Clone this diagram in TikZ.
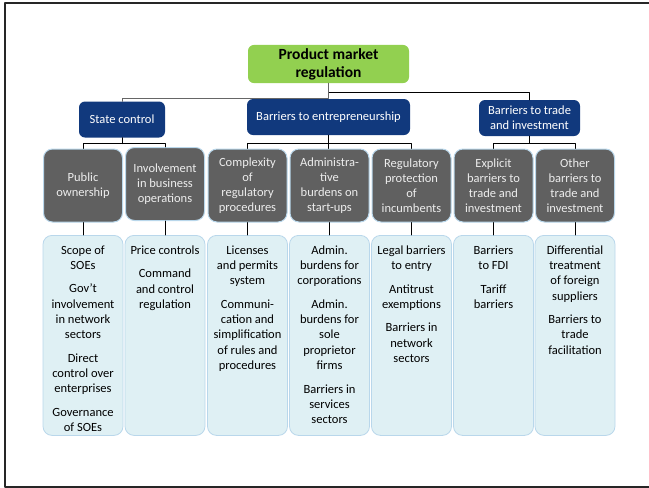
\documentclass[tikz,border=0pt]{standalone}
\usepackage{fontspec}
\setmainfont{Carlito}
\usepackage{tikz}
\definecolor{pmrgreen}{RGB}{146,208,80}
\definecolor{pmrblue}{RGB}{17,57,125}
\definecolor{pmrgray}{RGB}{96,96,96}
\definecolor{pmredge}{RGB}{185,215,235}
\definecolor{pmrpale}{RGB}{223,240,244}
\newcommand{\itemcol}[1]{\parbox[t][200pt][t]{80pt}{\fontsize{12.5}{15.3}\selectfont\centering\setlength{\parskip}{8.2pt}\vspace*{2pt}#1}}

\begin{document}
\begin{tikzpicture}[x=1pt,y=-1pt,line cap=round,line join=round,
    topbox/.style={fill=pmrgreen,rounded corners=6pt,minimum width=161pt,minimum height=36pt,align=center,font=\bfseries\fontsize{15.5}{18}\selectfont},
    groupbox/.style={fill=pmrblue,text=white,rounded corners=6pt,minimum height=36pt,align=center,font=\fontsize{12.5}{15}\selectfont},
    areabox/.style={fill=pmrgray,draw=pmredge,line width=1pt,text=white!93!black,rounded corners=9pt,minimum width=79pt,minimum height=73pt,align=center,inner sep=1pt,font=\fontsize{12.5}{15}\selectfont},
    listbox/.style={fill=pmrpale,draw=pmredge,line width=0.8pt,rounded corners=9pt,anchor=north,inner sep=0pt},
    link/.style={line width=0.9pt}]
        \useasboundingbox (0,0) rectangle (649,488);
        \draw [line width=2pt,black!85] (660,2.5) -- (5.3,2.5) -- (5.3,486.7) -- (660,486.7);
        \node [topbox] (pmr) at (328.5,64) {Product market\\regulation};
        \node [groupbox,minimum width=86pt] (state) at (122,119.5) {State control};
        \node [groupbox,minimum width=163pt] (entre) at (328.5,117) {Barriers to entrepreneurship};
        \node [groupbox,minimum width=101pt] (trade) at (529.5,118) {Barriers to trade\\and investment};
        \node [areabox] (pub) at (83,185.5) {Public\\ownership};
        \node [areabox] (inv) at (165,184) {Involvement\\in business\\operations};
        \node [areabox] (cplx) at (247.5,185.5) {Complexity\\of\\regulatory\\procedures};
        \node [areabox] (adm) at (329.5,185.5) {Administra-\\tive\\burdens on\\start-ups};
        \node [areabox] (prot) at (411.5,185.5) {Regulatory\\protection\\of\\incumbents};
        \node [areabox] (expl) at (493.5,185.5) {Explicit\\barriers to\\trade and\\investment};
        \node [areabox] (othr) at (575,185.5) {Other\\barriers to\\trade and\\investment};
        \node [listbox] (scope) at (83,235) {\itemcol{Scope of\\SOEs\par Gov’t\\involvement\\in network\\sectors\par Direct\\control over\\enterprises\par Governance\\of SOEs}};
        \node [listbox] (price) at (165,235) {\itemcol{Price controls\par Command\\and control\\regulation}};
        \node [listbox] (lic) at (247.5,235) {\itemcol{Licenses\\and permits\\system\par Communi-\\cation and\\simplification\\of rules and\\procedures}};
        \node [listbox] (burd) at (329.5,235) {\itemcol{Admin.\\burdens for\\corporations\par Admin.\\burdens for\\sole\\proprietor\\firms\par Barriers in\\services\\sectors}};
        \node [listbox] (legal) at (411.5,235) {\itemcol{Legal barriers\\to entry\par Antitrust\\exemptions\par Barriers in\\network\\sectors}};
        \node [listbox] (fdi) at (493.5,235) {\itemcol{Barriers\\to FDI\par Tariff\\barriers}};
        \node [listbox] (diff) at (575,235) {\itemcol{Differential\\treatment\\of foreign\\suppliers\par Barriers to\\trade\\facilitation}};
        \draw [link] (pmr.south) -- ++(0,9) -| (trade.north);
        \draw [link,black!60] (pmr.south) -- (entre.north) -| (state.north);
        \draw [link] (state.south) -- ++(0,6) coordinate (statebar);
        \draw [link] (pub.north) |- (statebar) -| (inv.north);
        \draw [link] (entre.south) -- ++(0,8) coordinate (entrebar) -- (entrebar |- adm.north);
        \draw [link] (cplx.north) |- (entrebar) -| (prot.north);
        \draw [link] (trade.south) -- ++(0,7) coordinate (tradebar);
        \draw [link] (expl.north) |- (tradebar) -| (othr.north);
        \draw [link] (pub.south) -- (scope.north);
        \draw [link] (inv.south) -- (price.north);
        \draw [link] (cplx.south) -- (lic.north);
        \draw [link] (adm.south) -- (burd.north);
        \draw [link] (prot.south) -- (legal.north);
        \draw [link] (expl.south) -- (fdi.north);
        \draw [link] (othr.south) -- (diff.north);
    \end{tikzpicture}
\end{document}
